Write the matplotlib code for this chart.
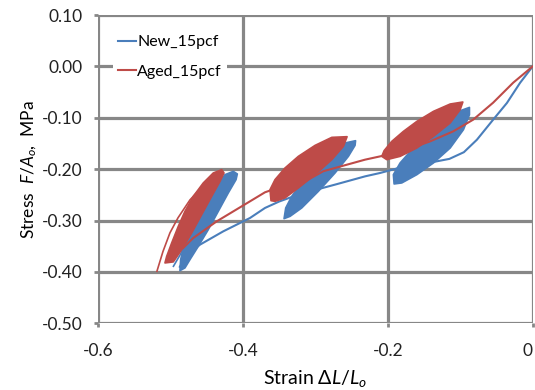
import matplotlib
matplotlib.use("Agg")
import matplotlib.pyplot as plt

plt.rcParams['font.family'] = ['Lato', 'DejaVu Sans']
plt.rcParams['mathtext.fontset'] = 'custom'
plt.rcParams['mathtext.rm'] = 'Lato'
plt.rcParams['mathtext.it'] = 'Lato:italic'

# monotonic loading paths (strain, stress in MPa)
new_strain = [0.0, -0.0173, -0.0356, -0.0546, -0.0770, -0.0950, -0.1150, -0.1370, -0.1512, -0.183,
              -0.2106, -0.2314, -0.2700, -0.3073, -0.3235, -0.3500, -0.3695, -0.3902, -0.4271,
              -0.4592, -0.4776, -0.4870]
new_stress = [0.0, -0.0317, -0.0712, -0.1037, -0.1427, -0.1670, -0.1800, -0.1860, -0.1880, -0.197,
              -0.2074, -0.2140, -0.2290, -0.2432, -0.2496, -0.2630, -0.2755, -0.2950, -0.3210,
              -0.3469, -0.3664, -0.3900]
aged_strain = [0.0, -0.0269, -0.0546, -0.0822, -0.1098, -0.1416, -0.1738, -0.2106, -0.2314, -0.289,
               -0.3142, -0.3450, -0.3695, -0.3902, -0.4362, -0.4685, -0.4824]
aged_stress = [0.0, -0.0317, -0.0706, -0.1037, -0.1265, -0.1459, -0.1621, -0.1751, -0.1815, -0.204,
               -0.2237, -0.2330, -0.2450, -0.2626, -0.3016, -0.3339, -0.3533]
# outer unloading/reloading branches drawn as thin lines
aged_tail_strain = [-0.430, -0.452, -0.473, -0.4896, -0.5007, -0.5104, -0.5187]
aged_tail_stress = [-0.205, -0.228, -0.2597, -0.2947, -0.3239, -0.3605, -0.3988]
aged_inner_strain = [-0.4620, -0.4740, -0.4860, -0.4960]
aged_inner_stress = [-0.2620, -0.2860, -0.3200, -0.3560]
new_tail_strain = [-0.4780, -0.4860, -0.4959]
new_tail_stress = [-0.3420, -0.3650, -0.3890]

# envelopes of the repeated unload/reload cycles at three strain levels
new_loops_strain = [
    [-0.4133, -0.4247, -0.4385, -0.4523, -0.4638, -0.4754, -0.4823, -0.4859, -0.4869,
     -0.4800, -0.4731, -0.4616, -0.4478, -0.4340, -0.4202, -0.4095, -0.4077],
    [-0.2445, -0.2590, -0.2773, -0.3004, -0.3188, -0.3326, -0.3409, -0.3432,
     -0.3349, -0.3188, -0.2959, -0.2728, -0.2544, -0.2452],
    [-0.0873, -0.1025, -0.1232, -0.1461, -0.1669, -0.1830, -0.1923, -0.1913,
     -0.1807, -0.1599, -0.1370, -0.1139, -0.0956, -0.0873],
]
new_loops_stress = [
    [-0.2043, -0.2107, -0.2366, -0.2658, -0.2949, -0.3274, -0.3533, -0.3761, -0.3975,
     -0.3922, -0.3761, -0.3502, -0.3177, -0.2821, -0.2463, -0.2204, -0.2093],
    [-0.1446, -0.1490, -0.1685, -0.1977, -0.2268, -0.2529, -0.2755, -0.2963,
     -0.2918, -0.2755, -0.2432, -0.2074, -0.1751, -0.1537],
    [-0.0798, -0.0875, -0.1101, -0.1362, -0.1621, -0.1879, -0.2107, -0.2288,
     -0.2268, -0.2107, -0.1879, -0.1588, -0.1232, -0.0940],
]
aged_loops_strain = [
    [-0.4293, -0.4409, -0.4547, -0.4685, -0.4800, -0.4892, -0.4983, -0.5052, -0.5076,
     -0.4961, -0.4845, -0.4707, -0.4569, -0.4431, -0.4316, -0.4261],
    [-0.2562, -0.2773, -0.3004, -0.3235, -0.3419, -0.3557, -0.3626, -0.3612,
     -0.3557, -0.3419, -0.3235, -0.3004, -0.2773, -0.2613],
    [-0.0964, -0.1139, -0.1370, -0.1599, -0.1785, -0.1945, -0.2051, -0.2083,
     -0.2014, -0.1830, -0.1599, -0.1370, -0.1139, -0.1001],
]
aged_loops_stress = [
    [-0.2010, -0.2074, -0.2268, -0.2529, -0.2821, -0.3113, -0.3436, -0.3696, -0.3825,
     -0.3805, -0.3566, -0.3241, -0.2885, -0.2529, -0.2237, -0.2074],
    [-0.1368, -0.1381, -0.1537, -0.1751, -0.1977, -0.2204, -0.2399, -0.2613,
     -0.2626, -0.2560, -0.2366, -0.2107, -0.1815, -0.1556],
    [-0.0693, -0.0732, -0.0875, -0.1070, -0.1265, -0.1459, -0.1640, -0.1751,
     -0.1815, -0.1751, -0.1588, -0.1362, -0.1101, -0.0842],
]

blue = '#4a7ebb'
red = '#be4b48'
grid_c = '#878787'

fig = plt.figure(figsize=(5.35, 3.9), dpi=100)
ax = fig.add_axes([0.1832, 0.171, 0.8125, 0.7905])

for xs, ys in zip(new_loops_strain, new_loops_stress):
    ax.fill(xs, ys, color=blue, lw=1.2, joinstyle='round', zorder=3)
ax.plot(new_strain, new_stress, color=blue, lw=1.5, label='New_15pcf', zorder=3)
ax.plot(new_tail_strain, new_tail_stress, color=blue, lw=1.2, zorder=3)

for xs, ys in zip(aged_loops_strain, aged_loops_stress):
    ax.fill(xs, ys, color=red, lw=1.2, joinstyle='round', zorder=4)
ax.plot(aged_strain, aged_stress, color=red, lw=1.5, label='Aged_15pcf', zorder=4)
ax.plot(aged_tail_strain, aged_tail_stress, color=red, lw=1.2, zorder=4)
ax.plot(aged_inner_strain, aged_inner_stress, color=red, lw=1.0, zorder=4)

ax.set_xlim(-0.6, 0)
ax.set_ylim(-0.5, 0.1)
ax.set_xticks([-0.6, -0.4, -0.2, 0])
ax.set_xticklabels(['-0.6', '-0.4', '-0.2', '0'])
ax.get_xticklabels()[-1].set_horizontalalignment('right')
ax.set_yticks([0.1, 0.0, -0.1, -0.2, -0.3, -0.4, -0.5])
ax.set_yticklabels(['0.10', '0.00', '-0.10', '-0.20', '-0.30', '-0.40', '-0.50'])
ax.tick_params(labelsize=12.5, length=3, width=2, color=grid_c, labelcolor='#222222')
ax.tick_params(axis='x', pad=11)
ax.tick_params(axis='y', pad=8)

for s in ax.spines.values():
    s.set_visible(False)
ax.set_axisbelow(True)
ax.grid(True, color=grid_c, lw=2.3)

ax.set_xlabel('Strain $\\Delta\\mathit{L}/\\mathit{L}_{o}$', fontsize=14, labelpad=7)
ax.set_ylabel('Stress  $\\mathit{F}/\\mathit{A}_{o}$,  MPa', fontsize=12.5, labelpad=2)

leg = ax.legend(loc='upper left', bbox_to_anchor=(0.035, 0.95), frameon=True, fontsize=11.5,
                handlelength=1.1, handletextpad=0.1, borderpad=0.3, labelspacing=0.95,
                borderaxespad=0)
leg.get_frame().set_edgecolor('none')
leg.get_frame().set_facecolor('white')
leg.get_frame().set_alpha(1)
leg.get_frame().set_boxstyle('square', pad=0.0)

fig.savefig('out.png', dpi=100)
